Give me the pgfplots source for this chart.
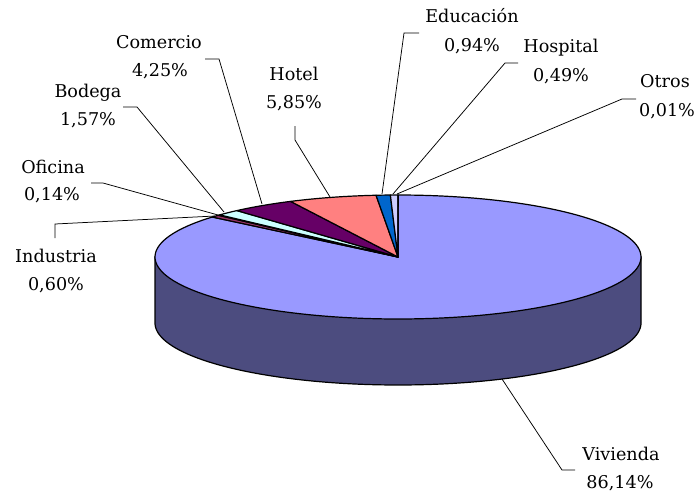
\documentclass[border=0pt]{standalone}
\usepackage{pgfplots}
\pgfplotsset{compat=1.18}
\usepackage{fontspec}
\setmainfont{DejaVu Serif}
\definecolor{cViv}{HTML}{9999FF}
\definecolor{cSide}{HTML}{4C4C7F}
\definecolor{cInd}{HTML}{993366}
\definecolor{cOfi}{HTML}{FFFFCC}
\definecolor{cBod}{HTML}{CCFFFF}
\definecolor{cCom}{HTML}{660066}
\definecolor{cHot}{HTML}{FF8080}
\definecolor{cEdu}{HTML}{0066CC}
\definecolor{cHos}{HTML}{CCCCFF}
\definecolor{cOtr}{HTML}{000080}
% shares (percent)
\def\pViv{86.14}\def\pInd{0.60}\def\pOfi{0.14}\def\pBod{1.57}\def\pCom{4.25}
\def\pHot{5.85}\def\pEdu{0.94}\def\pHos{0.49}\def\pOtr{0.01}
\def\pcx{398}\def\pcy{234}\def\prx{243}\def\pry{62}\def\pdep{66}
\begin{document}
\pgfmathsetmacro{\aA}{90}%
\pgfmathsetmacro{\aB}{\aA+3.6*\pOtr}%
\pgfmathsetmacro{\aC}{\aB+3.6*\pHos}%
\pgfmathsetmacro{\aD}{\aC+3.6*\pEdu}%
\pgfmathsetmacro{\aE}{\aD+3.6*\pHot}%
\pgfmathsetmacro{\aF}{\aE+3.6*\pCom}%
\pgfmathsetmacro{\aG}{\aF+3.6*\pBod}%
\pgfmathsetmacro{\aH}{\aG+3.6*\pOfi}%
\pgfmathsetmacro{\aI}{\aH+3.6*\pInd}%
\pgfmathsetmacro{\aJ}{\aI+3.6*\pViv}%
\begin{tikzpicture}
\begin{axis}[name=ax, width=700pt, height=491pt, scale only axis,
  xmin=0, xmax=700, ymin=0, ymax=491, hide axis, clip=false]
% side
\addplot[fill=cSide, draw=black, line width=1.2pt, domain=180:360, samples=120]
  ({\pcx+\prx*cos(x)}, {\pcy-\pdep+\pry*sin(x)}) -- (axis cs:{\pcx+\prx},\pcy) -- (axis cs:{\pcx-\prx},\pcy) -- cycle;
% slices
\pgfplotsset{slice/.style={draw=black, line width=1.2pt, line join=round, samples=150}}
\addplot[slice, fill=cViv, domain=\aI:\aJ] ({\pcx+\prx*cos(x)}, {\pcy+\pry*sin(x)}) -- (axis cs:\pcx,\pcy) -- cycle;
\addplot[slice, fill=cInd, domain=\aH:\aI, samples=10] ({\pcx+\prx*cos(x)}, {\pcy+\pry*sin(x)}) -- (axis cs:\pcx,\pcy) -- cycle;
\addplot[slice, fill=cOfi, domain=\aG:\aH, samples=5] ({\pcx+\prx*cos(x)}, {\pcy+\pry*sin(x)}) -- (axis cs:\pcx,\pcy) -- cycle;
\addplot[slice, fill=cBod, domain=\aF:\aG, samples=10] ({\pcx+\prx*cos(x)}, {\pcy+\pry*sin(x)}) -- (axis cs:\pcx,\pcy) -- cycle;
\addplot[slice, fill=cCom, domain=\aE:\aF, samples=30] ({\pcx+\prx*cos(x)}, {\pcy+\pry*sin(x)}) -- (axis cs:\pcx,\pcy) -- cycle;
\addplot[slice, fill=cHot, domain=\aD:\aE, samples=30] ({\pcx+\prx*cos(x)}, {\pcy+\pry*sin(x)}) -- (axis cs:\pcx,\pcy) -- cycle;
\addplot[slice, fill=cEdu, domain=\aC:\aD, samples=10] ({\pcx+\prx*cos(x)}, {\pcy+\pry*sin(x)}) -- (axis cs:\pcx,\pcy) -- cycle;
\addplot[slice, fill=cHos, domain=\aB:\aC, samples=10] ({\pcx+\prx*cos(x)}, {\pcy+\pry*sin(x)}) -- (axis cs:\pcx,\pcy) -- cycle;
\addplot[slice, fill=cOtr, domain=\aA:\aB, samples=2] ({\pcx+\prx*cos(x)}, {\pcy+\pry*sin(x)}) -- (axis cs:\pcx,\pcy) -- cycle;
% leader lines
\pgfplotsset{lead/.style={black, line width=0.75pt}}
\addplot[lead] coordinates {(205,432) (219,432) (262,287)};
\addplot[lead] coordinates {(123,384) (137,384) (224,279)};
\addplot[lead] coordinates {(91,308) (103,308) (218,276)};
\addplot[lead] coordinates {(55,253) (55,267) (215,275)};
\addplot[lead] coordinates {(295,365) (295,351) (330,294)};
\addplot[lead] coordinates {(419,458) (404,458) (382,297)};
\addplot[lead] coordinates {(518,428) (505,428) (393,297)};
\addplot[lead] coordinates {(636,392) (622,392) (397,297)};
\addplot[lead] coordinates {(502,112) (562,21) (575,21)};
% labels
\tikzset{lbl/.style={anchor=base, inner sep=0pt, font=\fontsize{17.6}{20}\selectfont}}
\node[lbl] at (axis cs:159,442) {Comercio};
\node[lbl] at (axis cs:160,414) {4,25\%};
\node[lbl] at (axis cs:88,394) {Bodega};
\node[lbl] at (axis cs:88,366) {1,57\%};
\node[lbl] at (axis cs:53,318) {Oficina};
\node[lbl] at (axis cs:52,291) {0,14\%};
\node[lbl] at (axis cs:56,229) {Industria};
\node[lbl] at (axis cs:56,201) {0,60\%};
\node[lbl] at (axis cs:294,410) {Hotel};
\node[lbl] at (axis cs:294,383) {5,85\%};
\node[lbl] at (axis cs:472,468) {Educación};
\node[lbl] at (axis cs:472,439) {0,94\%};
\node[lbl] at (axis cs:561,438) {Hospital};
\node[lbl] at (axis cs:561,409) {0,49\%};
\node[lbl] at (axis cs:665,403) {Otros};
\node[lbl] at (axis cs:667,374) {0,01\%};
\node[lbl] at (axis cs:621,31) {Vivienda};
\node[lbl] at (axis cs:620,3) {86,14\%};
\end{axis}
\pgfresetboundingbox
\path (ax.south west) rectangle (ax.north east);
\end{tikzpicture}
\end{document}
